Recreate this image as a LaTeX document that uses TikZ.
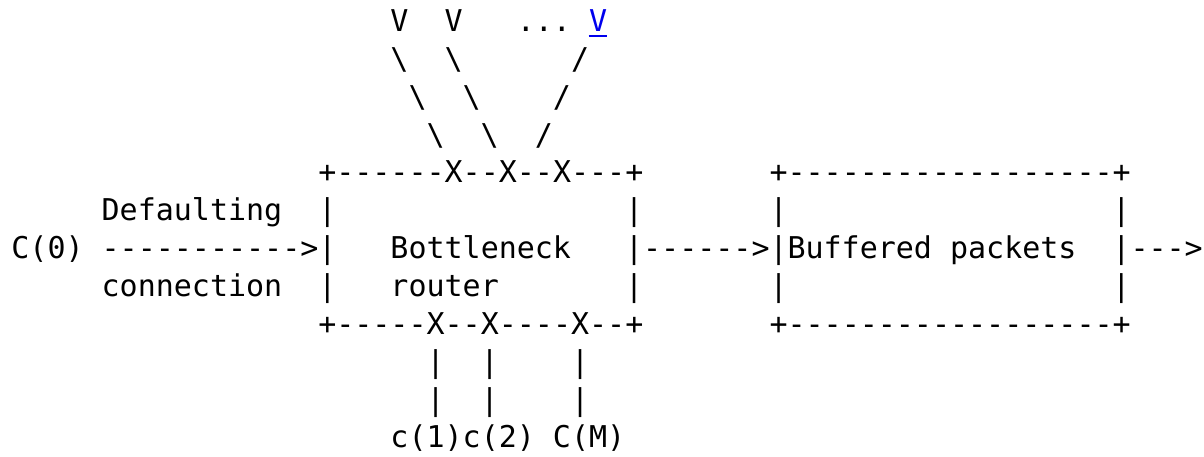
\documentclass[tikz,border=0pt]{standalone}
\usepackage{fontspec}
\setmonofont{DejaVu Sans Mono}
\definecolor{linkblue}{RGB}{0,0,238}
\tikzset{ascii/.style={anchor=base west, inner sep=0pt, font=\ttfamily\fontsize{15pt}{18pt}\selectfont}}

\begin{document}
\begin{tikzpicture}[x=9.025pt, y=-18.925pt]
  \useasboundingbox (-5.5pt,15.75pt) rectangle (596.5pt,-212.25pt);

  % flows entering from above
  \node[ascii] (vees)  at (21,0) {V~~V~~~...};
  \node[ascii, text=linkblue] (vlink) at (32,0) {V};
  \draw[linkblue, line width=0.8pt] ([yshift=-2.2pt]vlink.base west) -- ([yshift=-2.2pt]vlink.base east);
  \node[ascii] (slantA) at (21,1) {\textbackslash~~\textbackslash~~~~~~/};
  \node[ascii] (slantB) at (22,2) {\textbackslash~~\textbackslash~~~~/};
  \node[ascii] (slantC) at (23,3) {\textbackslash~~\textbackslash~~/};

  % the two boxes
  \node[ascii] (routertop) at (17,4) {+------X--X--X---+};
  \node[ascii] (buffertop) at (42,4) {+------------------+};
  \foreach \r in {5,7}
    \foreach \c in {17,34,42,61}
      \node[ascii] (wall-\c-\r) at (\c,\r) {|};
  \node[ascii] (routerbot) at (17,8) {+-----X--X----X--+};
  \node[ascii] (bufferbot) at (42,8) {+------------------+};

  % labels and arrows
  \node[ascii] (defaulting) at (5,5)  {Defaulting};
  \node[ascii] (czero)      at (0,6)  {C(0)};
  \node[ascii] (inarrow)    at (5,6)  {----------->|};
  \node[ascii] (bottleneck) at (21,6) {Bottleneck};
  \node[ascii] (midarrow)   at (34,6) {|------>|};
  \node[ascii] (buffered)   at (43,6) {Buffered~packets};
  \node[ascii] (outarrow)   at (61,6) {|--->};
  \node[ascii] (connection) at (5,7)  {connection};
  \node[ascii] (router)     at (21,7) {router};

  % flows leaving below
  \node[ascii] (legsA) at (23,9)  {|~~|~~~~|};
  \node[ascii] (legsB) at (23,10) {|~~|~~~~|};
  \node[ascii] (flows) at (21,11) {c(1)c(2)~C(M)};
\end{tikzpicture}
\end{document}
